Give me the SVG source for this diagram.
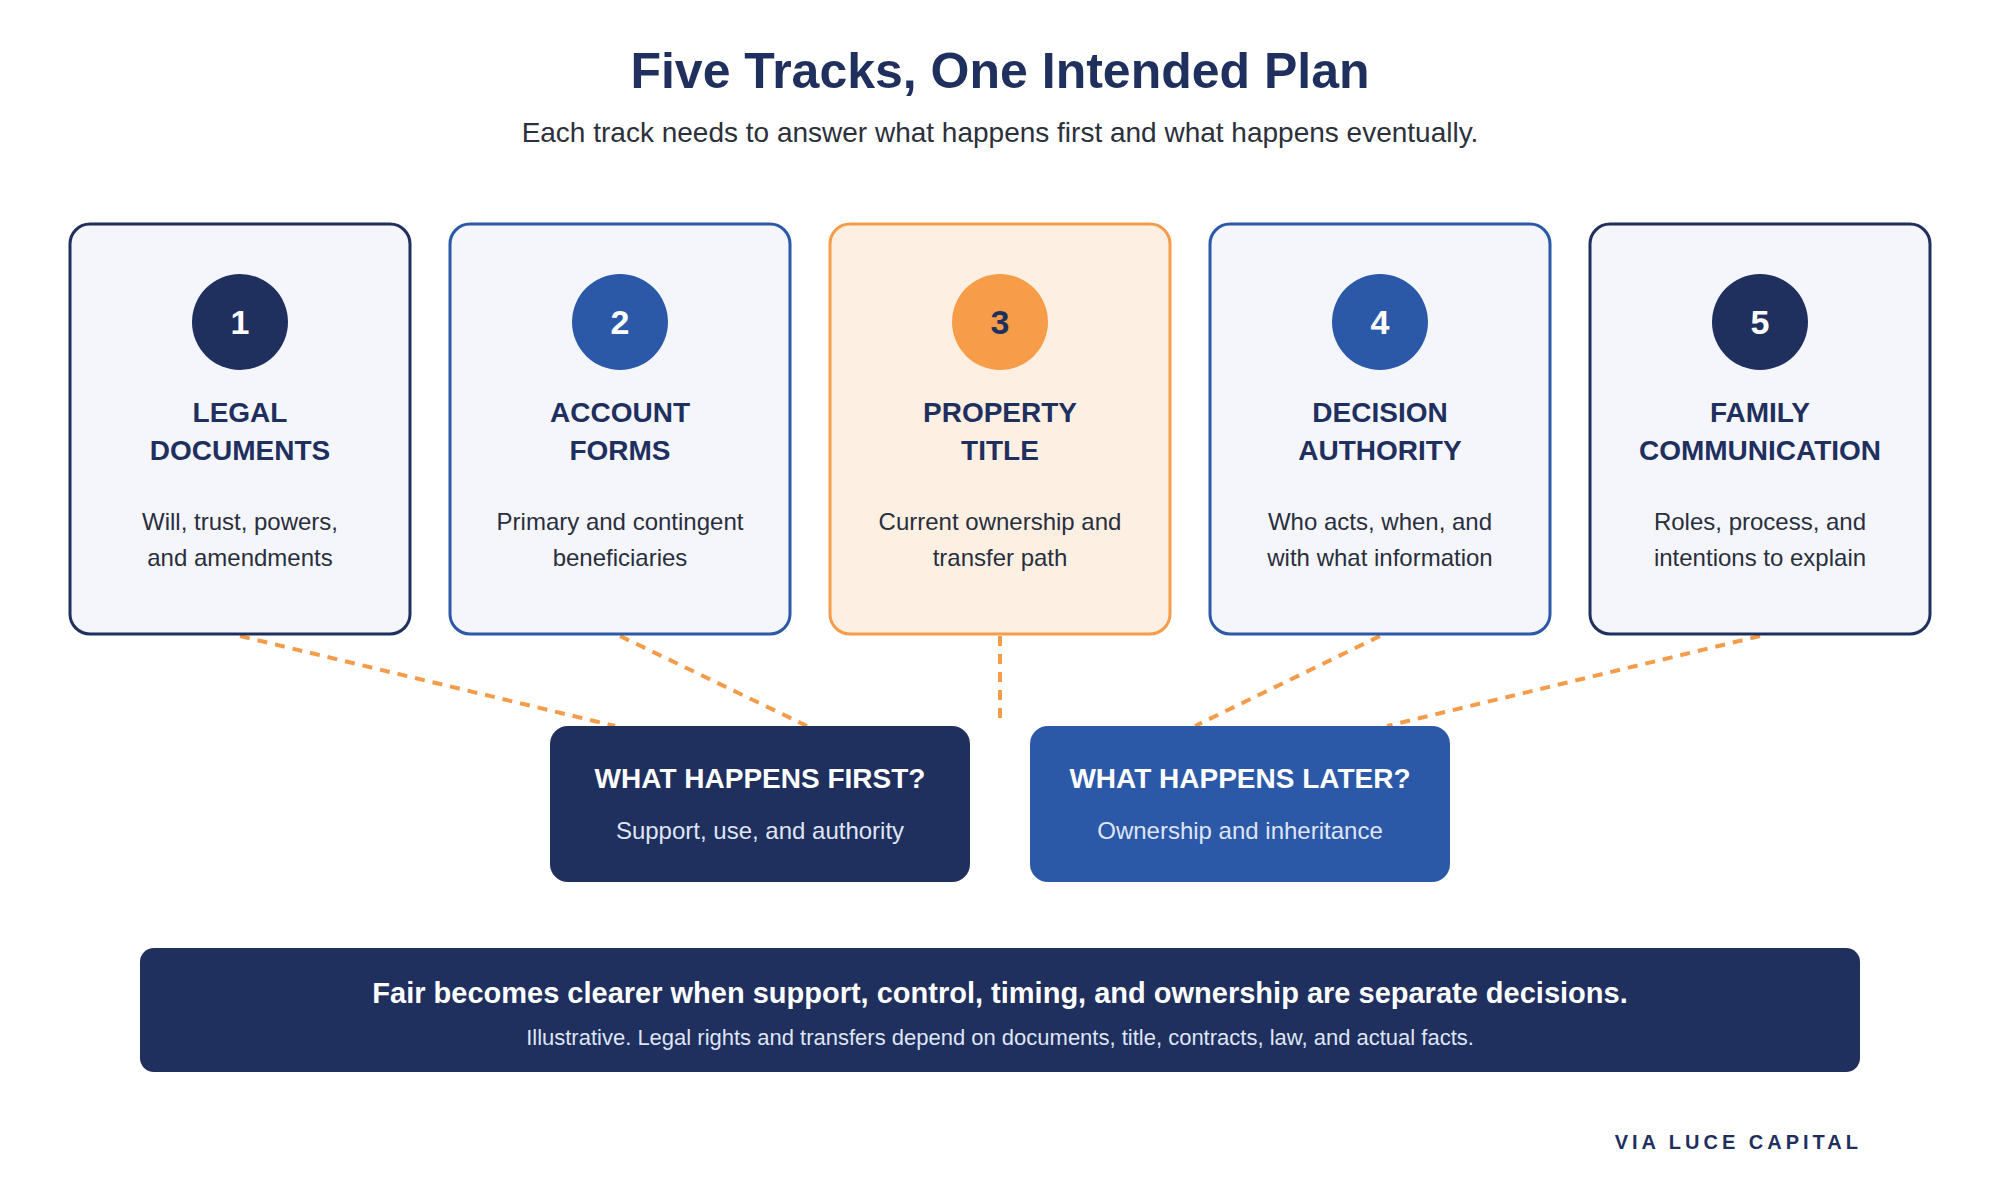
<svg xmlns="http://www.w3.org/2000/svg" width="2000" height="1200" viewBox="0 0 2000 1200">
<style>
  text { font-family: "Liberation Sans", Arial, sans-serif; text-anchor: middle; }
  .card { stroke-width: 3; }
  .navy { fill: #f4f6fb; stroke: #1f2f5e; }
  .blue { fill: #f4f6fb; stroke: #2c58a8; }
  .orange { fill: #fdf0e3; stroke: #f59c4a; }
  .num { font-size: 34px; font-weight: bold; fill: #ffffff; }
  .ttl { font-size: 28px; font-weight: bold; fill: #1f2f5e; }
  .desc { font-size: 24px; fill: #2a2f3d; }
  .conn { stroke: #f59c4a; stroke-width: 4; stroke-dasharray: 10 8; fill: none; }
  .qt { font-size: 28px; font-weight: bold; fill: #ffffff; }
  .qs { font-size: 24px; fill: #dfe5f5; }
</style>
<rect width="2000" height="1200" fill="#ffffff"/>
<g id="header">
  <text x="1000" y="88" font-size="50" font-weight="bold" fill="#1f2f5e">Five Tracks, One Intended Plan</text>
  <text x="1000" y="142" font-size="28" fill="#2b303b">Each track needs to answer what happens first and what happens eventually.</text>
</g>
<g id="connectors">
  <line class="conn" x1="240" y1="636" x2="615" y2="726"/>
  <line class="conn" x1="620" y1="636" x2="807" y2="726"/>
  <line class="conn" x1="1000" y1="636" x2="1000" y2="726"/>
  <line class="conn" x1="1380" y1="636" x2="1195" y2="726"/>
  <line class="conn" x1="1760" y1="636" x2="1387" y2="726"/>
</g>
<g id="track1">
  <rect class="card navy" x="70" y="224" width="340" height="410" rx="20"/>
  <circle cx="240" cy="322" r="48" fill="#1f2f5e"/>
  <text class="num" x="240" y="334">1</text>
  <text class="ttl" x="240" y="422">LEGAL</text>
  <text class="ttl" x="240" y="460">DOCUMENTS</text>
  <text class="desc" x="240" y="530">Will, trust, powers,</text>
  <text class="desc" x="240" y="566">and amendments</text>
</g>
<g id="track2">
  <rect class="card blue" x="450" y="224" width="340" height="410" rx="20"/>
  <circle cx="620" cy="322" r="48" fill="#2c58a8"/>
  <text class="num" x="620" y="334">2</text>
  <text class="ttl" x="620" y="422">ACCOUNT</text>
  <text class="ttl" x="620" y="460">FORMS</text>
  <text class="desc" x="620" y="530">Primary and contingent</text>
  <text class="desc" x="620" y="566">beneficiaries</text>
</g>
<g id="track3">
  <rect class="card orange" x="830" y="224" width="340" height="410" rx="20"/>
  <circle cx="1000" cy="322" r="48" fill="#f79c48"/>
  <text class="num" x="1000" y="334" style="fill:#1f2f5e">3</text>
  <text class="ttl" x="1000" y="422">PROPERTY</text>
  <text class="ttl" x="1000" y="460">TITLE</text>
  <text class="desc" x="1000" y="530">Current ownership and</text>
  <text class="desc" x="1000" y="566">transfer path</text>
</g>
<g id="track4">
  <rect class="card blue" x="1210" y="224" width="340" height="410" rx="20"/>
  <circle cx="1380" cy="322" r="48" fill="#2c58a8"/>
  <text class="num" x="1380" y="334">4</text>
  <text class="ttl" x="1380" y="422">DECISION</text>
  <text class="ttl" x="1380" y="460">AUTHORITY</text>
  <text class="desc" x="1380" y="530">Who acts, when, and</text>
  <text class="desc" x="1380" y="566">with what information</text>
</g>
<g id="track5">
  <rect class="card navy" x="1590" y="224" width="340" height="410" rx="20"/>
  <circle cx="1760" cy="322" r="48" fill="#1f2f5e"/>
  <text class="num" x="1760" y="334">5</text>
  <text class="ttl" x="1760" y="422">FAMILY</text>
  <text class="ttl" x="1760" y="460">COMMUNICATION</text>
  <text class="desc" x="1760" y="530">Roles, process, and</text>
  <text class="desc" x="1760" y="566">intentions to explain</text>
</g>
<g id="first">
  <rect x="550" y="726" width="420" height="156" rx="18" fill="#1f2f5e"/>
  <text class="qt" x="760" y="788">WHAT HAPPENS FIRST?</text>
  <text class="qs" x="760" y="839">Support, use, and authority</text>
</g>
<g id="later">
  <rect x="1030" y="726" width="420" height="156" rx="18" fill="#2c58a8"/>
  <text class="qt" x="1240" y="788">WHAT HAPPENS LATER?</text>
  <text class="qs" x="1240" y="839">Ownership and inheritance</text>
</g>
<g id="banner">
  <rect x="140" y="948" width="1720" height="124" rx="14" fill="#1f2f5e"/>
  <text x="1000" y="1003" font-size="29" font-weight="bold" fill="#ffffff">Fair becomes clearer when support, control, timing, and ownership are separate decisions.</text>
  <text x="1000" y="1045" font-size="22" fill="#dfe5f5">Illustrative. Legal rights and transfers depend on documents, title, contracts, law, and actual facts.</text>
</g>
<g id="brand">
  <text x="1862" y="1149" font-size="20" font-weight="bold" fill="#1f2f5e" letter-spacing="4" style="text-anchor:end">VIA LUCE CAPITAL</text>
</g>
</svg>
